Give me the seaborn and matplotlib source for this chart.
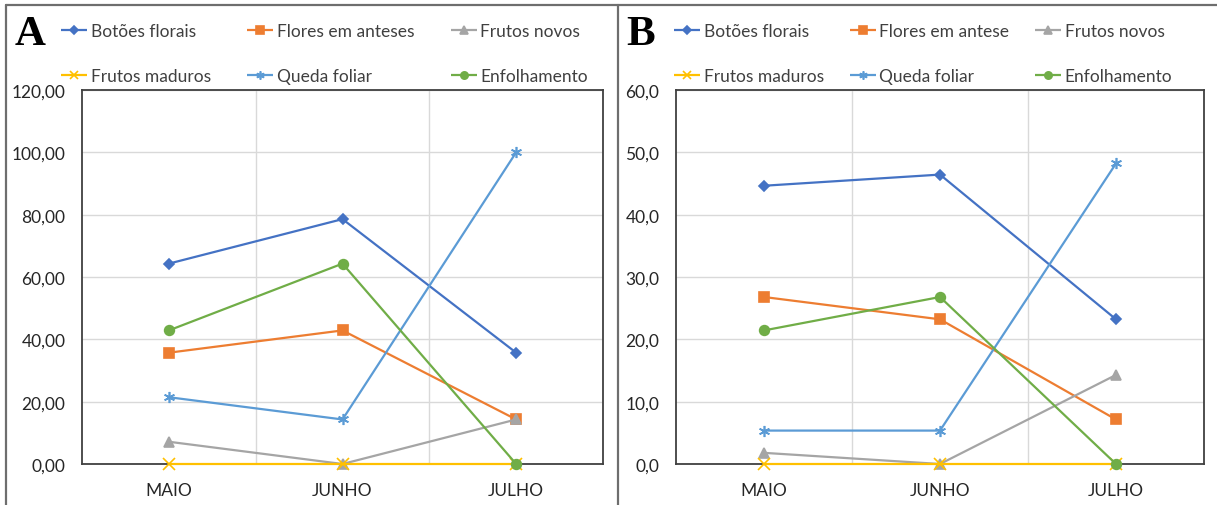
import numpy as np
import pandas as pd
import matplotlib
matplotlib.use("Agg")
import matplotlib.pyplot as plt
import seaborn as sns
from matplotlib.lines import Line2D
from matplotlib.ticker import FuncFormatter, FixedLocator

months = ["MAIO", "JUNHO", "JULHO"]

series_a = ["Botões florais", "Flores em anteses", "Frutos novos",
            "Frutos maduros", "Queda foliar", "Enfolhamento"]
series_b = ["Botões florais", "Flores em antese", "Frutos novos",
            "Frutos maduros", "Queda foliar", "Enfolhamento"]

# Panel A values (%)
a_botoes = [64.29, 78.57, 35.71]
a_flores = [35.71, 42.86, 14.29]
a_frutos_novos = [7.14, 0.00, 14.29]
a_frutos_maduros = [0.00, 0.00, 0.00]
a_queda = [21.43, 14.29, 100.00]
a_enfolha = [42.86, 64.29, 0.00]

# Panel B values (%)
b_botoes = [44.64, 46.43, 23.21]
b_flores = [26.79, 23.21, 7.14]
b_frutos_novos = [1.79, 0.00, 14.29]
b_frutos_maduros = [0.00, 0.00, 0.00]
b_queda = [5.36, 5.36, 48.21]
b_enfolha = [21.43, 26.79, 0.00]

colors = ["#4472C4", "#ED7D31", "#A5A5A5", "#FFC000", "#5B9BD5", "#70AD47"]
asterisk = (6, 2, 0)
marker_list = ["D", "s", "^", "x", asterisk, "o"]
msizes = [5, 7, 7, 8, 8, 7]

sns.set_style("white")
plt.rcParams["font.family"] = ["Lato", "DejaVu Sans"]

W, H = 1217, 506
fig = plt.figure(figsize=(W / 100, H / 100), dpi=100)

def px_axes(l, r, t, b):
    return fig.add_axes([l / W, 1 - b / H, (r - l) / W, (b - t) / H])

def build_df(names, vals):
    rows = []
    for n, v in zip(names, vals):
        for m, y in zip(months, v):
            rows.append({"Mes": m, "Valor": y, "Serie": n})
    return pd.DataFrame(rows)

def style_line(line, mk, ms, c):
    line.set_marker(mk)
    line.set_markersize(ms)
    line.set_markeredgecolor(c)
    line.set_markerfacecolor(c)
    line.set_markeredgewidth(1.2)
    line.set_solid_capstyle("butt")

panels = [
    dict(names=series_a, vals=[a_botoes, a_flores, a_frutos_novos, a_frutos_maduros, a_queda, a_enfolha],
         box=(82, 603, 91, 465), ymax=120, step=20, fmt="{:.2f}", letter="A", lx=30, legx=61, colsp=2.1),
    dict(names=series_b, vals=[b_botoes, b_flores, b_frutos_novos, b_frutos_maduros, b_queda, b_enfolha],
         box=(676, 1204, 91, 465), ymax=60, step=10, fmt="{:.1f}", letter="B", lx=641, legx=674, colsp=1.5),
]

FS = 12.5

for p in panels:
    ax = px_axes(*p["box"])
    df = build_df(p["names"], p["vals"])
    pal = dict(zip(p["names"], colors))
    sns.lineplot(data=df, x="Mes", y="Valor", hue="Serie",
                 hue_order=p["names"], palette=pal, sort=False,
                 linewidth=1.6, ax=ax, legend=True)
    for k, (line, mk, ms, c) in enumerate(zip(ax.get_lines(), marker_list, msizes, colors)):
        style_line(line, mk, ms, c)
        line.set_clip_on(False)
        line.set_zorder(3 + 0.1 * k)
    handles, labels = ax.get_legend_handles_labels()
    ax.get_legend().remove()
    hmap = dict(zip(labels, handles))
    for n, mk, ms, c in zip(p["names"], marker_list, msizes, colors):
        style_line(hmap[n], mk, ms * 0.75, c)
        hmap[n].set_linewidth(1.6)
    order = [0, 3, 1, 4, 2, 5]
    leg = ax.legend([hmap[p["names"][i]] for i in order],
                    [p["names"][i] for i in order],
                    ncol=3, frameon=False, fontsize=FS,
                    handlelength=1.5, handletextpad=0.2,
                    columnspacing=p["colsp"], labelspacing=1.68,
                    loc="upper left",
                    bbox_to_anchor=(p["legx"] / W, 1 - 24 / H),
                    bbox_transform=fig.transFigure, borderaxespad=0, borderpad=0)
    for t in leg.get_texts():
        t.set_color("#404040")

    ax.set_xlim(-0.5, 2.5)
    ax.set_ylim(0, p["ymax"])
    ax.set_yticks(np.arange(0, p["ymax"] + 0.1, p["step"]))
    f = p["fmt"]
    ax.yaxis.set_major_formatter(FuncFormatter(lambda v, pos, f=f: f.format(v).replace(".", ",")))
    ax.xaxis.set_minor_locator(FixedLocator([0.5, 1.5]))
    ax.grid(True, axis="y", which="major", color="#D9D9D9", linewidth=1.0)
    ax.grid(True, axis="x", which="minor", color="#D9D9D9", linewidth=1.0)
    ax.grid(False, axis="x", which="major")
    ax.set_axisbelow(True)
    ax.set_xlabel("")
    ax.set_ylabel("")
    ax.tick_params(axis="both", which="both", length=0, labelsize=FS, colors="#262626")
    ax.tick_params(axis="y", pad=12)
    ax.tick_params(axis="x", pad=13)
    for s in ax.spines.values():
        s.set_visible(True)
        s.set_color("#404040")
        s.set_linewidth(1.3)

    fig.text(p["lx"] / W, 1 - 35 / H, p["letter"], family=["Liberation Serif", "DejaVu Serif"],
             fontweight="bold", fontsize=31, ha="center", va="center", color="black")

# outer frame lines
lc = "#6E6E6E"
fig.add_artist(Line2D([6 / W, 1.0], [1 - 6 / H, 1 - 6 / H], transform=fig.transFigure, color=lc, lw=1.6))
fig.add_artist(Line2D([6 / W, 6 / W], [0, 1 - 6 / H], transform=fig.transFigure, color=lc, lw=1.6))
fig.add_artist(Line2D([618 / W, 618 / W], [0, 1 - 6 / H], transform=fig.transFigure, color=lc, lw=1.6))

fig.savefig("out.png", dpi=100, facecolor="white")
